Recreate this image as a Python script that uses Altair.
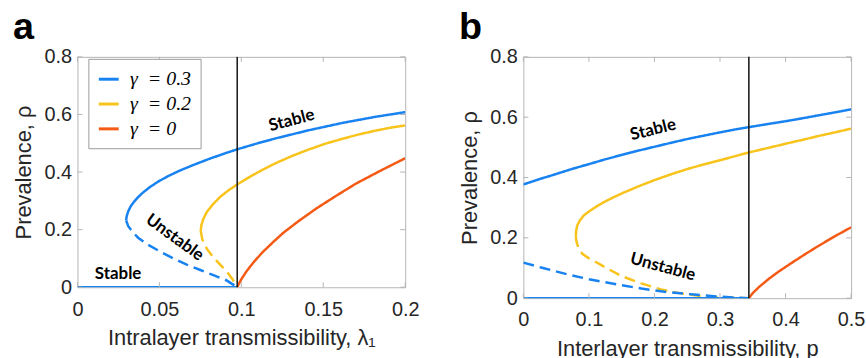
import altair as alt
import pandas as pd

# ---------------- Panel a data (x = intralayer transmissibility lambda_1) ----------------
a_blue_stable_x = [0.0297, 0.0300, 0.0310, 0.0325, 0.0345, 0.0370, 0.0400, 0.0440, 0.0490, 0.0550, 0.0620, 0.0700, 0.0800, 0.0900, 0.0975, 0.110, 0.121, 0.141, 0.162, 0.182, 0.200]
a_blue_stable_y = [0.232, 0.246, 0.264, 0.281, 0.297, 0.313, 0.329, 0.347, 0.366, 0.385, 0.404, 0.423, 0.445, 0.465, 0.479, 0.500, 0.517, 0.545, 0.571, 0.592, 0.608]
a_blue_unstable_x = [0.0297, 0.031, 0.0335, 0.037, 0.043, 0.051, 0.059, 0.067, 0.075, 0.083, 0.091, 0.0975]
a_blue_unstable_y = [0.232, 0.212, 0.193, 0.172, 0.148, 0.122, 0.099, 0.078, 0.060, 0.042, 0.024, 0.0]
a_blue_zero_x = [0.0, 0.0975]
a_blue_zero_y = [0.0, 0.0]
a_yellow_stable_x = [0.0752, 0.0756, 0.0768, 0.079, 0.0825, 0.0873, 0.0925, 0.0975, 0.105, 0.113, 0.121, 0.131, 0.141, 0.151, 0.162, 0.172, 0.182, 0.191, 0.200]
a_yellow_stable_y = [0.196, 0.215, 0.237, 0.262, 0.287, 0.315, 0.338, 0.357, 0.383, 0.408, 0.431, 0.456, 0.478, 0.498, 0.516, 0.531, 0.544, 0.554, 0.562]
a_yellow_unstable_x = [0.0752, 0.0762, 0.079, 0.0832, 0.0875, 0.0913, 0.0945, 0.0975]
a_yellow_unstable_y = [0.196, 0.166, 0.133, 0.102, 0.076, 0.053, 0.029, 0.0]
a_orange_x = [0.0975, 0.0985, 0.100, 0.1035, 0.1075, 0.113, 0.120, 0.1256, 0.135, 0.1459, 0.158, 0.170, 0.185, 0.200]
a_orange_y = [0.0, 0.012, 0.028, 0.058, 0.087, 0.122, 0.160, 0.189, 0.230, 0.274, 0.318, 0.360, 0.405, 0.448]
a_vline = 0.0975

# ---------------- Panel b data (x = interlayer transmissibility p) ----------------
b_blue_stable_x = [0.0, 0.025, 0.0505, 0.075, 0.101, 0.126, 0.152, 0.177, 0.202, 0.227, 0.253, 0.278, 0.303, 0.325, 0.344, 0.375, 0.404, 0.43, 0.455, 0.478, 0.5]
b_blue_stable_y = [0.377, 0.395, 0.412, 0.429, 0.445, 0.461, 0.476, 0.490, 0.503, 0.516, 0.529, 0.540, 0.551, 0.560, 0.567, 0.578, 0.588, 0.598, 0.608, 0.617, 0.626]
b_blue_unstable_x = [0.0, 0.03, 0.069, 0.1, 0.144, 0.18, 0.22, 0.26, 0.295, 0.32, 0.344]
b_blue_unstable_y = [0.118, 0.100, 0.078, 0.063, 0.045, 0.032, 0.020, 0.012, 0.006, 0.002, 0.0]
b_blue_zero_x = [0.0, 0.344]
b_blue_zero_y = [0.0, 0.0]
b_yellow_stable_x = [0.080, 0.0805, 0.082, 0.086, 0.092, 0.101, 0.113, 0.126, 0.139, 0.152, 0.177, 0.202, 0.227, 0.253, 0.278, 0.303, 0.325, 0.344, 0.375, 0.404, 0.43, 0.455, 0.478, 0.5]
b_yellow_stable_y = [0.205, 0.222, 0.240, 0.257, 0.274, 0.289, 0.306, 0.322, 0.336, 0.349, 0.372, 0.393, 0.412, 0.430, 0.445, 0.459, 0.472, 0.483, 0.499, 0.514, 0.527, 0.540, 0.551, 0.562]
b_yellow_unstable_x = [0.080, 0.081, 0.084, 0.09, 0.1, 0.109, 0.125, 0.15, 0.18, 0.21, 0.24, 0.27, 0.30, 0.325, 0.344]
b_yellow_unstable_y = [0.205, 0.188, 0.166, 0.147, 0.132, 0.122, 0.102, 0.073, 0.049, 0.029, 0.016, 0.007, 0.003, 0.001, 0.0]
b_orange_x = [0.344, 0.35, 0.36, 0.375, 0.39, 0.41, 0.43, 0.45, 0.475, 0.5]
b_orange_y = [0.0, 0.017, 0.038, 0.065, 0.089, 0.118, 0.146, 0.173, 0.205, 0.235]
b_vline = 0.344

series_names = ["γ\u2002= 0.3", "γ\u2002= 0.2", "γ\u2002= 0"]
series_colors = ["#1782F0", "#F8C31B", "#F55A14"]

a_xticks = [0, 0.05, 0.1, 0.15, 0.2]
b_xticks = [0, 0.1, 0.2, 0.3, 0.4, 0.5]
yticks = [0, 0.2, 0.4, 0.6, 0.8]

a_texts = ["Stable", "Unstable", "Stable"]
a_text_x = [0.1307, 0.0594, 0.0248]
a_text_y = [0.579, 0.172, 0.045]
a_text_angle = [345, 36, 0]
b_texts = ["Stable", "Unstable"]
b_text_x = [0.198, 0.2126]
b_text_y = [0.558, 0.103]
b_text_angle = [346, 15]

TXT = "#262626"
BOX = "#b4b4b4"


def line_frame(segs):
    rows = []
    for sid, (name, style, xs, ys) in enumerate(segs):
        for i, (x, y) in enumerate(zip(xs, ys)):
            rows.append({"x": x, "y": y, "series": name, "style": style, "seg": sid, "i": i})
    return pd.DataFrame(rows)


def panel(segs, xdom, xticks, xfmt, W, H, xtitle, vline, texts, tx, ty, tang, label, show_legend):
    df = line_frame(segs)
    xscale = alt.Scale(domain=xdom, nice=False, zero=False)
    yscale = alt.Scale(domain=[0, 0.8], nice=False)
    xaxis = alt.Axis(values=xticks, format=xfmt, tickSize=0, domain=False, grid=False,
                     labelFont="Liberation Sans", labelFontSize=20, labelColor=TXT, labelPadding=12,
                     labelFlush=False, title=xtitle, titleFont="Liberation Sans", titleFontSize=22,
                     titleFontWeight="normal", titleColor=TXT, titlePadding=9)
    yaxis = alt.Axis(values=yticks, format=".1~f", tickSize=0, domain=False, grid=False,
                     labelFont="Liberation Sans", labelFontSize=20, labelColor=TXT, labelPadding=6,
                     labelFlush=False, title="Prevalence, ρ", titleFont="Liberation Sans", titleFontSize=22,
                     titleFontWeight="normal", titleColor=TXT, titlePadding=8)
    if show_legend:
        leg = alt.Legend(orient="none", legendX=11, legendY=2, title=None, symbolType="stroke",
                         symbolSize=400, symbolStrokeWidth=3, labelFont="Liberation Serif",
                         labelFontSize=20, labelFontStyle="italic", labelColor="black",
                         strokeColor="#9a9a9a", fillColor="white",
                         padding=9, rowPadding=3, labelOffset=10)
    else:
        leg = None
    lines = alt.Chart(df).mark_line(strokeWidth=2.5, clip=True).encode(
        x=alt.X("x:Q", scale=xscale, axis=xaxis),
        y=alt.Y("y:Q", scale=yscale, axis=yaxis),
        color=alt.Color("series:N", scale=alt.Scale(domain=series_names, range=series_colors), legend=leg),
        strokeDash=alt.StrokeDash("style:N", scale=alt.Scale(domain=["solid", "dashed"], range=[[1, 0], [11, 6]]), legend=None),
        detail="seg:N",
        order="i:Q",
    )
    vl = alt.Chart(pd.DataFrame({"x": [vline]})).mark_rule(color="#1e1e1e", strokeWidth=1.6).encode(
        x=alt.X("x:Q", scale=xscale, axis=xaxis)
    )
    xt = pd.DataFrame({"x": xticks})
    yt = pd.DataFrame({"y": yticks})
    tick_bot = alt.Chart(xt).mark_rule(color=BOX, strokeWidth=1).encode(
        x=alt.X("x:Q", scale=xscale, axis=xaxis), y=alt.value(H), y2=alt.value(H - 5))
    tick_top = alt.Chart(xt).mark_rule(color=BOX, strokeWidth=1).encode(
        x=alt.X("x:Q", scale=xscale, axis=xaxis), y=alt.value(0), y2=alt.value(5))
    tick_left = alt.Chart(yt).mark_rule(color=BOX, strokeWidth=1).encode(
        y=alt.Y("y:Q", scale=yscale, axis=yaxis), x=alt.value(0), x2=alt.value(5))
    tick_right = alt.Chart(yt).mark_rule(color=BOX, strokeWidth=1).encode(
        y=alt.Y("y:Q", scale=yscale, axis=yaxis), x=alt.value(W), x2=alt.value(W - 5))
    tdf = pd.DataFrame({"label": texts, "x": tx, "y": ty, "ang": tang})
    txt = alt.Chart(tdf).mark_text(font="Lato", fontWeight="bold", fontSize=17, color="black").encode(
        x=alt.X("x:Q", scale=xscale, axis=xaxis),
        y=alt.Y("y:Q", scale=yscale, axis=yaxis),
        text="label:N",
        angle=alt.Angle("ang:Q", scale=None),
    )
    return alt.layer(lines, tick_bot, tick_top, tick_left, tick_right, vl, txt).properties(
        width=W, height=H,
        title=alt.TitleParams(text=label, anchor="start", frame="bounds", font="Liberation Sans",
                              fontSize=38, fontWeight="bold", color="black", offset=0),
    )


segs_a = [
    (series_names[2], "solid", a_orange_x, a_orange_y),
    (series_names[1], "solid", a_yellow_stable_x, a_yellow_stable_y),
    (series_names[1], "dashed", a_yellow_unstable_x, a_yellow_unstable_y),
    (series_names[0], "solid", a_blue_stable_x, a_blue_stable_y),
    (series_names[0], "dashed", a_blue_unstable_x, a_blue_unstable_y),
    (series_names[0], "solid", a_blue_zero_x, a_blue_zero_y),
]
segs_b = [
    (series_names[2], "solid", b_orange_x, b_orange_y),
    (series_names[1], "solid", b_yellow_stable_x, b_yellow_stable_y),
    (series_names[1], "dashed", b_yellow_unstable_x, b_yellow_unstable_y),
    (series_names[0], "solid", b_blue_stable_x, b_blue_stable_y),
    (series_names[0], "dashed", b_blue_unstable_x, b_blue_unstable_y),
    (series_names[0], "solid", b_blue_zero_x, b_blue_zero_y),
]

pa = panel(segs_a, [0, 0.2], a_xticks, ".2~f", 330, 232, "Intralayer transmissibility, λ₁",
           a_vline, a_texts, a_text_x, a_text_y, a_text_angle, "a", True)
pb = panel(segs_b, [0, 0.5], b_xticks, ".1~f", 330, 243, "Interlayer transmissibility, p",
           b_vline, b_texts, b_text_x, b_text_y, b_text_angle, "b", False)

chart = alt.hconcat(pa, pb, spacing=38).resolve_scale(color="independent").resolve_legend(
    color="independent").properties(
    padding={"left": 12, "top": 7, "right": 0, "bottom": 0},
    background="white",
).configure_view(stroke=BOX, strokeWidth=1)

chart.save("out.html", embed_options={"renderer": "svg", "actions": False})
